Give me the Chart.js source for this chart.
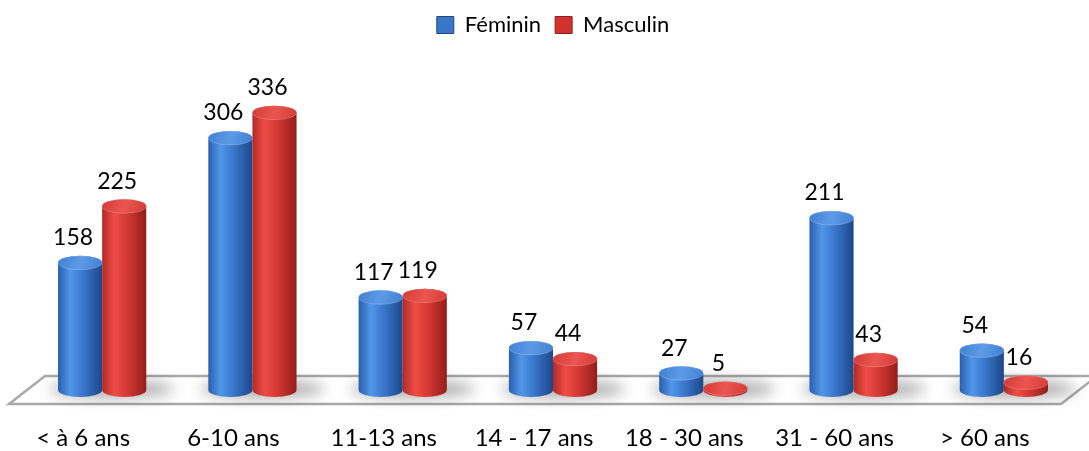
<!DOCTYPE html>
<html>
<head>
<meta charset="utf-8">
<script src="https://cdn.jsdelivr.net/npm/chart.js@4.4.1/dist/chart.umd.min.js"></script>
<style>
  html, body { margin: 0; padding: 0; background: #fff; }
</style>
</head>
<body>
<canvas id="chart" width="1089" height="451"></canvas>
<script>
// données
const categories = ['< à 6 ans', '6-10 ans', '11-13 ans', '14 - 17 ans', '18 - 30 ans', '31 - 60 ans', '> 60 ans'];
const feminin = [158, 306, 117, 57, 27, 211, 54];
const masculin = [225, 336, 119, 44, 5, 43, 16];
const seriesNames = ['Féminin', 'Masculin'];

const PAL = [
  { dark: '#2a5fae', light: '#5196e8', mid: '#3b79cd', edge: '#1c4789', capA: '#3f7fd3', capB: '#5e9be6', legend: '#3a76c6' },
  { dark: '#b22a26', light: '#ee4d46', mid: '#d63a34', edge: '#931d1a', capA: '#d23b35', capB: '#ec5650', legend: '#d0332e' }
];
const RY = 7;      // demi-hauteur des ellipses
const DEPTH = 18;  // décalage perspective du plancher

function cylinder(ctx, cx, w, topY, botY, p){
  const rx = w / 2, l = cx - rx, r = cx + rx;
  const g = ctx.createLinearGradient(l, 0, r, 0);
  g.addColorStop(0, p.dark); g.addColorStop(0.28, p.light); g.addColorStop(0.55, p.mid); g.addColorStop(1, p.edge);
  ctx.beginPath();
  ctx.moveTo(l, topY);
  ctx.lineTo(l, botY);
  ctx.ellipse(cx, botY, rx, RY, 0, Math.PI, 0, true);
  ctx.lineTo(r, topY);
  ctx.ellipse(cx, topY, rx, RY, 0, 0, Math.PI, true);
  ctx.closePath();
  ctx.fillStyle = g; ctx.fill();
  // couvercle
  const gc = ctx.createLinearGradient(l, topY - RY, r, topY + RY);
  gc.addColorStop(0, p.capA); gc.addColorStop(0.5, p.capB); gc.addColorStop(1, p.capA);
  ctx.beginPath();
  ctx.ellipse(cx, topY, rx, RY, 0, 0, Math.PI * 2);
  ctx.fillStyle = gc; ctx.fill();
  ctx.lineWidth = 0.8; ctx.strokeStyle = 'rgba(255,255,255,0.25)'; ctx.stroke();
}

const cylinderPlugin = {
  id: 'cylinders',
  beforeDatasetsDraw(chart){
    const { ctx, chartArea } = chart;
    const zero = chart.scales.y.getPixelForValue(0);
    const front = zero + 8, back = zero - 20;
    ctx.save();
    ctx.beginPath();
    ctx.moveTo(chartArea.left - DEPTH, front);
    ctx.lineTo(chartArea.right - DEPTH, front);
    ctx.lineTo(chartArea.right + DEPTH, back);
    ctx.lineTo(chartArea.left + DEPTH, back);
    ctx.closePath();
    ctx.fillStyle = '#fff'; ctx.fill();
    ctx.lineWidth = 2.5; ctx.strokeStyle = '#a9a9a9'; ctx.stroke();
    // ombres au sol
    const m0 = chart.getDatasetMeta(0), m1 = chart.getDatasetMeta(1);
    ctx.filter = 'blur(7px)';
    ctx.fillStyle = 'rgba(0,0,0,0.32)';
    categories.forEach((c, i) => {
      const cx = (m0.data[i].x + m1.data[i].x) / 2 + 10;
      ctx.beginPath();
      ctx.ellipse(cx, zero - 7, 62, 9, 0, 0, Math.PI * 2);
      ctx.fill();
    });
    ctx.restore();
  },
  afterDatasetsDraw(chart){
    const { ctx } = chart;
    const zero = chart.scales.y.getPixelForValue(0);
    const botY = zero - 6;
    ctx.save();
    chart.data.datasets.forEach((ds, di) => {
      const meta = chart.getDatasetMeta(di);
      meta.data.forEach((el, i) => {
        const { x, y, width } = el.getProps(['x', 'y', 'width'], true);
        const topY = Math.min(y, botY - 1.5);
        cylinder(ctx, x, width, topY, botY, PAL[di]);
        ctx.fillStyle = '#000';
        ctx.font = '23px Lato';
        ctx.textAlign = 'center';
        ctx.textBaseline = 'middle';
        ctx.fillText(String(ds.data[i]), x - 7, topY - RY - 18);
      });
    });
    ctx.restore();
  }
};

new Chart(document.getElementById('chart'), {
  type: 'bar',
  data: {
    labels: categories,
    datasets: [
      { label: seriesNames[0], data: feminin, backgroundColor: 'rgba(0,0,0,0)', categoryPercentage: 0.587, barPercentage: 1 },
      { label: seriesNames[1], data: masculin, backgroundColor: 'rgba(0,0,0,0)', categoryPercentage: 0.587, barPercentage: 1 }
    ]
  },
  options: {
    responsive: false,
    animation: false,
    layout: { padding: { left: 27, right: 10, top: 0, bottom: 0 } },
    plugins: {
      tooltip: { enabled: false },
      legend: {
        position: 'top',
        labels: {
          boxWidth: 17, boxHeight: 17, padding: 14,
          font: { family: 'Lato', size: 22 }, color: '#000',
          generateLabels: (chart) => chart.data.datasets.map((ds, i) => ({
            text: ds.label, fillStyle: PAL[i].legend, strokeStyle: PAL[i].edge, lineWidth: 1, datasetIndex: i
          }))
        }
      }
    },
    scales: {
      x: {
        grid: { display: false, drawTicks: false },
        border: { display: false },
        ticks: { font: { family: 'Lato', size: 24 }, color: '#000', padding: 28, labelOffset: -19, maxRotation: 0 },
        afterFit(scale){ scale.height = 55; }
      },
      y: { display: false, min: 0, max: 415 }
    }
  },
  plugins: [cylinderPlugin]
});
</script>
</body>
</html>
